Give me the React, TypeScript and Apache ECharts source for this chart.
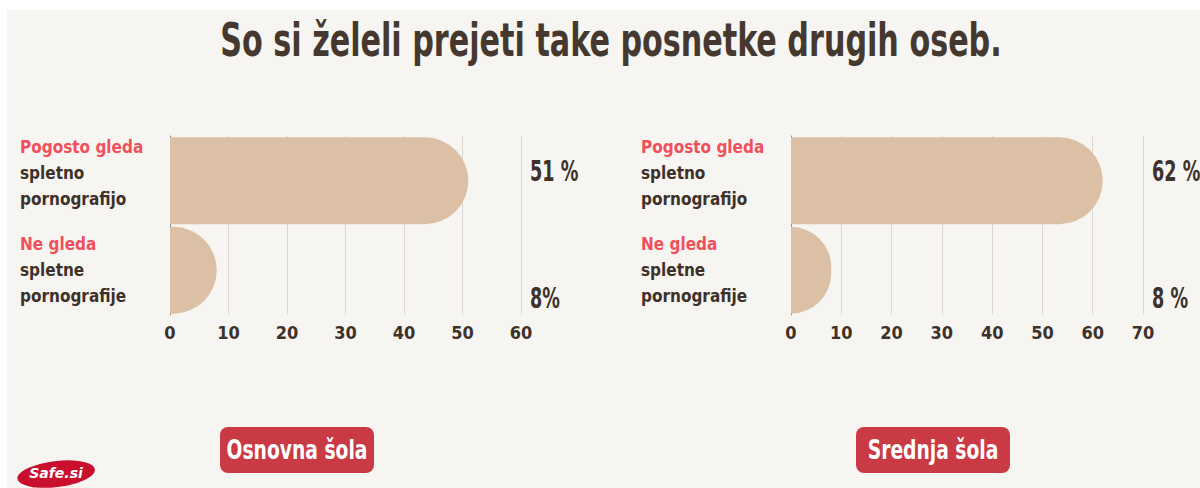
import React, { useEffect, useRef } from "react";
import * as echarts from "echarts";

const TITLE = "So si želeli prejeti take posnetke drugih oseb.";
const CATEGORY_HIGHLIGHT = ["Pogosto gleda", "Ne gleda"];
const CATEGORY_REST = [
  ["spletno", "pornografijo"],
  ["spletne", "pornografije"],
];
const PANELS = ["Osnovna šola", "Srednja šola"];
const VALUES_OSNOVNA = [51, 8];
const VALUES_SREDNJA = [62, 8];
const LABELS_OSNOVNA = ["51 %", "8%"];
const LABELS_SREDNJA = ["62 %", "8 %"];
const AXIS_MAX = [60, 70];
const AXIS_INTERVAL = 10;

const FONT = '"DejaVu Sans Condensed", "DejaVu Sans", sans-serif';
const DARK = "#3d3129";
const RED = "#f0505c";
const BAR = "#dcc0a5";
const BADGE = "#c93a44";

export default function App() {
  const ref = useRef<HTMLDivElement>(null);
  useEffect(() => {
    document.body.style.margin = "0";
    const chart = echarts.init(ref.current!, null, { renderer: "svg" });
    const cats = CATEGORY_HIGHLIGHT.map((h, i) => `${h}|${CATEGORY_REST[i].join("|")}`);
    const grids = [
      { left: 170, width: 351, top: 136, height: 179, outerBoundsMode: "none", containLabel: false },
      { left: 791, width: 352, top: 136, height: 179, outerBoundsMode: "none", containLabel: false },
    ];
    const valueSets = [VALUES_OSNOVNA, VALUES_SREDNJA];
    const labelSets = [LABELS_OSNOVNA, LABELS_SREDNJA];
    const labelDy = [-9, 28];
    const series: any[] = [];
    valueSets.forEach((vals, g) => {
      series.push({
        type: "bar",
        xAxisIndex: g,
        yAxisIndex: g,
        data: vals,
        barCategoryGap: "3%",
        itemStyle: { color: BAR, borderRadius: [0, 44, 44, 0] },
        silent: true,
      });
      series.push({
        type: "custom",
        xAxisIndex: g,
        yAxisIndex: g,
        silent: true,
        data: vals.map((_, i) => [AXIS_MAX[g], i]),
        renderItem: (params: any, api: any) => {
          const p = api.coord([api.value(0), api.value(1)]);
          const i = params.dataIndex;
          return {
            type: "text",
            x: p[0] + 9,
            y: p[1] + labelDy[i],
            scaleX: 0.7,
            style: {
              text: labelSets[g][i],
              fontFamily: FONT,
              fontWeight: "bold",
              fontSize: 28,
              fill: DARK,
              align: "left",
              verticalAlign: "middle",
            },
          };
        },
      });
    });
    const badgeCenters = [297, 933];
    chart.setOption({
      animation: false,
      backgroundColor: "#ffffff",
      grid: grids,
      xAxis: grids.map((_, g) => ({
        type: "value",
        gridIndex: g,
        min: 0,
        max: AXIS_MAX[g],
        interval: AXIS_INTERVAL,
        axisLine: { show: false },
        axisTick: { show: false },
        splitLine: { show: true, lineStyle: { color: "#dbd7d2", width: 1 } },
        axisLabel: {
          margin: 8,
          fontFamily: FONT,
          fontWeight: "bold",
          fontSize: 18,
          color: DARK,
        },
      })),
      yAxis: grids.map((_, g) => ({
        type: "category",
        gridIndex: g,
        inverse: true,
        data: cats,
        axisLine: { show: true, lineStyle: { color: "#8f8780", width: 1 } },
        axisTick: { show: false },
        axisLabel: {
          align: "left",
          margin: 150,
          fontFamily: FONT,
          fontWeight: "bold",
          fontSize: 17,
          lineHeight: 26,
          color: DARK,
          formatter: (v: string, idx: number) => {
            const parts = v.split("|");
            const lines = [`{r|${parts[0]}}`, ...parts.slice(1).map((p) => `{d|${p}}`)];
            if (idx === 0) lines.push("{sp| }");
            return lines.join("\n");
          },
          rich: {
            r: { color: RED, fontFamily: FONT, fontWeight: "bold", fontSize: 17, lineHeight: 26 },
            d: { color: DARK, fontFamily: FONT, fontWeight: "bold", fontSize: 17, lineHeight: 26 },
            sp: { fontSize: 10, lineHeight: 16 },
          },
        },
      })),
      series,
      graphic: [
        {
          type: "rect",
          z: -10,
          silent: true,
          shape: { x: 7, y: 10, width: 1193, height: 478 },
          style: { fill: "#f7f5f1" },
        },
        {
          type: "text",
          x: 611,
          y: 40,
          scaleX: 0.73,
          style: {
            text: TITLE,
            fontFamily: FONT,
            fontWeight: "bold",
            fontSize: 46,
            fill: "#45392f",
            align: "center",
            verticalAlign: "middle",
          },
        },
        ...PANELS.map((p, i) => ({
          type: "group",
          children: [
            {
              type: "rect",
              shape: { x: badgeCenters[i] - 77, y: 427, width: 154, height: 46, r: 8 },
              style: { fill: BADGE },
            },
            {
              type: "text",
              x: badgeCenters[i],
              y: 450,
              scaleX: 0.8,
              style: {
                text: p,
                fontFamily: FONT,
                fontWeight: "bold",
                fontSize: 26,
                fill: "#ffffff",
                align: "center",
                verticalAlign: "middle",
              },
            },
          ],
        })),
        {
          type: "group",
          children: [
            {
              type: "polygon",
              shape: { points: [[30, 478], [40, 482], [33, 488]] },
              style: { fill: "#c8102e" },
            },
            {
              type: "ellipse",
              shape: { cx: 56, cy: 474, rx: 39, ry: 13 },
              rotation: 0.12,
              originX: 56,
              originY: 474,
              style: { fill: "#c8102e" },
            },
            {
              type: "text",
              x: 56,
              y: 473,
              style: {
                text: "Safe.si",
                fontFamily: '"DejaVu Sans", sans-serif',
                fontStyle: "italic",
                fontWeight: "bold",
                fontSize: 14,
                fill: "#ffffff",
                align: "center",
                verticalAlign: "middle",
              },
            },
          ],
        },
      ],
    });
    return () => chart.dispose();
  }, []);
  return <div ref={ref} style={{ width: 1200, height: 488 }} />;
}
